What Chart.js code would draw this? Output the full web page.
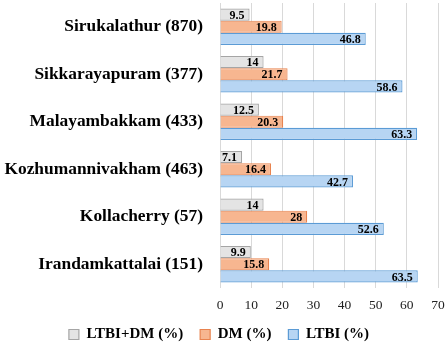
<!DOCTYPE html>
<html><head><meta charset="utf-8">
<script src="https://cdn.jsdelivr.net/npm/chart.js@4"></script>
<style>html,body{margin:0;padding:0;background:#fff}#wrap{width:447px;height:345px}</style>
</head><body><div id="wrap"><canvas id="c"></canvas></div>
<script>
const categories = ["Sirukalathur (870)","Sikkarayapuram (377)","Malayambakkam (433)","Kozhumannivakham (463)","Kollacherry (57)","Irandamkattalai (151)"];
const ltbiDm = [9.5,14,12.5,7.1,14,9.9];
const dm = [19.8,21.7,20.3,16.4,28,15.8];
const ltbi = [46.8,58.6,63.3,42.7,52.6,63.5];
const xTicks = [0,10,20,30,40,50,60,70];
const seriesNames = ["LTBI+DM (%)","DM (%)","LTBI (%)"];

const serif = "'Liberation Serif','Times New Roman',serif";

const labelPlugin = {
  id:'barLabels',
  afterDatasetsDraw(chart){
    const ctx = chart.ctx;
    ctx.save();
    ctx.font = "bold 12px " + serif;
    ctx.fillStyle = "#000";
    ctx.textAlign = "right";
    ctx.textBaseline = "middle";
    chart.data.datasets.forEach((ds,di)=>{
      const meta = chart.getDatasetMeta(di);
      meta.data.forEach((el,i)=>{
        ctx.fillText(String(ds.data[i]), el.x - 5, el.y + 1);
      });
    });
    ctx.restore();
  }
};

new Chart(document.getElementById('c'),{
  type:'bar',
  data:{
    labels:categories,
    datasets:[
      {label:seriesNames[0],data:ltbiDm,backgroundColor:'#e4e4e4',borderColor:'#a5a5a5',borderWidth:1.2},
      {label:seriesNames[1],data:dm,backgroundColor:'#f7b690',borderColor:'#e8834f',borderWidth:1.2},
      {label:seriesNames[2],data:ltbi,backgroundColor:'#b7d5f3',borderColor:'#5b9bd5',borderWidth:1.2}
    ]
  },
  options:{
    indexAxis:'y',
    responsive:true,maintainAspectRatio:false,animation:false,
    layout:{padding:{top:3,right:9,left:0,bottom:0}},
    datasets:{bar:{categoryPercentage:0.77,barPercentage:1.0}},
    scales:{
      x:{min:0,max:70,
        afterBuildTicks(s){s.ticks = xTicks.map(v=>({value:v}));},
        afterFit(s){s.paddingLeft=0;s.paddingRight=0;s.height=22;},
        grid:{color:'#d9d9d9',drawTicks:false},
        border:{display:false},
        ticks:{padding:9,color:'#222',font:{family:serif,size:13.5}}
      },
      y:{
        grid:{display:false},
        border:{display:false},
        afterFit(s){s.width = 220;s.paddingTop=0;s.paddingBottom=0;},
        ticks:{padding:9,color:'#000',font:{family:serif,size:17.4,weight:'bold'}}
      }
    },
    plugins:{
      legend:{position:'bottom',maxHeight:35,
        labels:{boxWidth:10,boxHeight:10,padding:17,color:'#000',font:{family:serif,size:15,weight:'bold'}}
      },
      tooltip:{enabled:false}
    }
  },
  plugins:[labelPlugin]
});
</script></body></html>
